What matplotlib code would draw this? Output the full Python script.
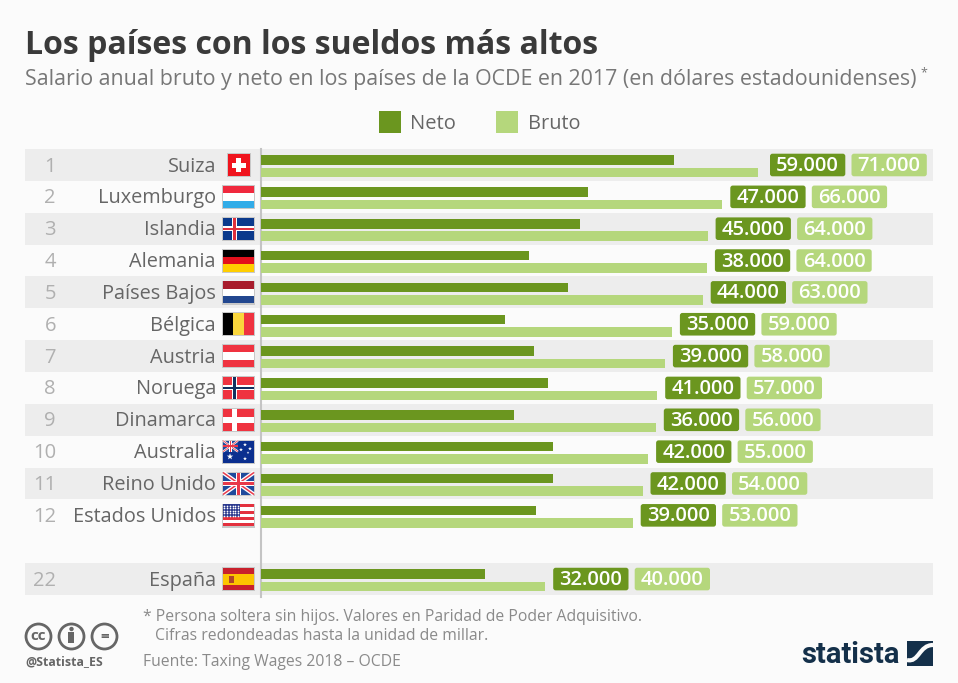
from matplotlib import pyplot as plt
from matplotlib.patches import Rectangle, FancyBboxPatch, Circle, PathPatch
from matplotlib.path import Path
import numpy as np

plt.rcParams['font.family'] = ['Open Sans', 'DejaVu Sans']

ranks = [1, 2, 3, 4, 5, 6, 7, 8, 9, 10, 11, 12, 22]
countries = ["Suiza", "Luxemburgo", "Islandia", "Alemania", "Países Bajos", "Bélgica", "Austria",
             "Noruega", "Dinamarca", "Australia", "Reino Unido", "Estados Unidos", "España"]
rows = [0, 1, 2, 3, 4, 5, 6, 7, 8, 9, 10, 11, 13]
# bar lengths
neto = [59000, 46700, 45600, 38300, 43900, 34900, 39000, 41000, 36100, 41700, 41700, 39300, 32000]
bruto = [71000, 65900, 63800, 63700, 63100, 58700, 57700, 56600, 56400, 55300, 54500, 53100, 40600]
# rounded values printed in the badges
neto_labels = ["59.000", "47.000", "45.000", "38.000", "44.000", "35.000", "39.000",
               "41.000", "36.000", "42.000", "42.000", "39.000", "32.000"]
bruto_labels = ["71.000", "66.000", "64.000", "64.000", "63.000", "59.000", "58.000",
                "57.000", "56.000", "55.000", "54.000", "53.000", "40.000"]

W, H = 958, 683
BG = "#fbfbfb"
BAND = "#ededed"
DARK = "#6b961f"
LIGHT = "#b5d77c"
GREY = "#666666"
NAVY = "#14304a"
X0 = 261
PX_PER_USD = 0.0070
ROW0 = 165
ROW_H = 31.85

fig = plt.figure(figsize=(W / 100, H / 100), dpi=100, facecolor=BG)

# data axes cover the whole figure, so the scale lines up with the page
ax = fig.add_axes([0, 0, 1, 1])
ax.set_xlim(-X0 / PX_PER_USD, (W - X0) / PX_PER_USD)
ax.set_ylim((H - ROW0) / ROW_H, -ROW0 / ROW_H)
ax.axis("off")

# page axes in pixels for text and flags
pg = fig.add_axes([0, 0, 1, 1])
pg.set_xlim(0, W)
pg.set_ylim(H, 0)
pg.axis("off")
pg.patch.set_alpha(0)


def rect(x, y, w, h, c, z=3):
    pg.add_patch(Rectangle((x, y), w, h, fc=c, ec="none", zorder=z))


def line(xs, ys, c, lw, z=4):
    pg.plot(xs, ys, color=c, lw=lw, solid_capstyle="butt", zorder=z)


def hstripes(x, y, w, h, cols):
    for i, c in enumerate(cols):
        rect(x, y + i * h / len(cols), w, h / len(cols), c)


def vstripes(x, y, w, h, cols):
    for i, c in enumerate(cols):
        rect(x + i * w / len(cols), y, w / len(cols), h, c)


def nordic(x, y, w, h, bg, cross, inner=None):
    rect(x, y, w, h, bg)
    cw = 5 if inner else 5.5
    rect(x + 9, y, cw, h, cross, 4)
    rect(x, y + h / 2 - cw / 2, w, cw, cross, 4)
    if inner:
        rect(x + 10.3, y, 2.4, h, inner, 5)
        rect(x, y + h / 2 - 1.2, w, 2.4, inner, 5)


def union(x, y, w, h):
    rect(x, y, w, h, "#1f4a9c")
    sw = h / 22
    line([x, x + w], [y, y + h], "white", 3 * sw)
    line([x, x + w], [y + h, y], "white", 3 * sw)
    line([x, x + w], [y, y + h], "#e8394a", 1.1 * sw)
    line([x, x + w], [y + h, y], "#e8394a", 1.1 * sw)
    rect(x + w / 2 - 2.6 * sw, y, 5.2 * sw, h, "white", 5)
    rect(x, y + h / 2 - 2.6 * sw, w, 5.2 * sw, "white", 5)
    rect(x + w / 2 - 1.4 * sw, y, 2.8 * sw, h, "#e8394a", 6)
    rect(x, y + h / 2 - 1.4 * sw, w, 2.8 * sw, "#e8394a", 6)


def draw_flag(name, cy):
    x, y, w, h = 223, cy - 11, 31, 22
    if name == "Suiza":
        x, w = 228, 22
        rect(x - 0.8, y - 0.8, w + 2, h + 2, "#c8c8c8", 2)
        rect(x, y, w, h, "#f0141e")
        rect(x + 8.5, y + 4, 5, 14, "white", 4)
        rect(x + 4, y + 8.5, 14, 5, "white", 4)
        return
    rect(x - 0.8, y - 0.8, w + 2, h + 2, "#c8c8c8", 2)
    if name == "Luxemburgo":
        hstripes(x, y, w, h, ["#f0293e", "white", "#32ace8"])
    elif name == "Islandia":
        nordic(x, y, w, h, "#0b3a8c", "white", "#e0313e")
    elif name == "Alemania":
        hstripes(x, y, w, h, ["black", "#e3101c", "#ffce00"])
    elif name == "Países Bajos":
        hstripes(x, y, w, h, ["#a81c2c", "white", "#22478f"])
    elif name == "Bélgica":
        vstripes(x, y, w, h, ["black", "#fad63c", "#ef3340"])
    elif name == "Austria":
        hstripes(x, y, w, h, ["#ef3340", "white", "#ef3340"])
    elif name == "Noruega":
        nordic(x, y, w, h, "#ef3340", "white", "#12305f")
    elif name == "Dinamarca":
        nordic(x, y, w, h, "#ef3340", "white")
    elif name == "Australia":
        rect(x, y, w, h, "#0b2f8f")
        union(x, y, 15, 11)
        pg.scatter(np.array([7, 22, 27, 22, 18, 25]) + x, np.array([16, 4, 8, 18, 9, 12]) + y,
                   s=[24, 9, 9, 9, 9, 4], marker="*", color="white", lw=0, zorder=7)
    elif name == "Reino Unido":
        union(x, y, w, h)
    elif name == "Estados Unidos":
        hstripes(x, y, w, h, ["#e3313e", "white"] * 3 + ["#e3313e"])
        rect(x, y, 17, 12.5, "#2c3a8f", 4)
        gx, gy = np.meshgrid(np.arange(1.5, 17, 2.7), np.arange(1.5, 12, 2.5))
        pg.scatter(gx.ravel() + x, gy.ravel() + y, s=1.5, color="white", lw=0, zorder=5)
    elif name == "España":
        hstripes(x, y, w, h, ["#c8202c", "#fcc400", "#fcc400", "#c8202c"])
        rect(x + 6, y + 7.5, 5.5, 7, "#b0452a", 5)


def badge(x, cy, label, color):
    pg.add_patch(FancyBboxPatch((x, cy - 11.3), 75.3, 22.6, boxstyle="round,pad=0,rounding_size=2.5",
                                fc=color, ec="none", zorder=5))
    pg.text(x + 37.6, cy + 1, label, color="white", fontsize=14.5, ha="center", va="center",
            fontweight=600, zorder=6)


# alternating bands
for i, r in enumerate(rows):
    if i % 2 == 0:
        ax.axhspan(r - 0.5, r + 0.5, xmin=25 / W, xmax=933 / W, color=BAND, lw=0, zorder=1)

ax.axvline(0, ymin=1 - 597 / H, ymax=1 - 149 / H, color="#c4c4c4", lw=1.5, zorder=2)

y = np.array(rows)
ax.barh(y - 0.155, neto, height=0.3, color=DARK, zorder=3)
ax.barh(y + 0.235, bruto, height=0.3, color=LIGHT, zorder=3)

for i, r in enumerate(rows):
    cy = ROW0 + r * ROW_H
    pg.text(56, cy + 1.5, str(ranks[i]), color="#b0b0b0", fontsize=14.5, ha="right", va="center")
    pg.text(216, cy + 1.5, countries[i], color=GREY, fontsize=14.3, ha="right", va="center")
    draw_flag(countries[i], cy)
    gap = 12 if i == 0 else 8
    start = X0 + bruto[i] * PX_PER_USD + gap
    badge(start, cy, neto_labels[i], DARK)
    badge(start + 81.5, cy, bruto_labels[i], LIGHT)

# title block
pg.text(25, 45, "Los países con los sueldos más altos", color="#3a3a3a", fontsize=23,
        fontweight="bold", va="center", ha="left")
pg.text(25, 80, "Salario anual bruto y neto en los países de la OCDE en 2017 (en dólares estadounidenses)",
        color="#777777", fontsize=15.4, va="center", ha="left")
pg.text(920, 73, "*", color="#777777", fontsize=9, va="center", ha="left")

# legend
rect(379, 111, 22, 22, DARK)
pg.text(410, 124, "Neto", color=GREY, fontsize=14.5, va="center")
rect(496, 111, 22, 22, LIGHT)
pg.text(528, 124, "Bruto", color=GREY, fontsize=14.3, va="center")

# notes
pg.text(143, 617, "* Persona soltera sin hijos. Valores en Paridad de Poder Adquisitivo.",
        color="#8a8a8a", fontsize=11.35, va="center")
pg.text(155, 636, "Cifras redondeadas hasta la unidad de millar.", color="#8a8a8a", fontsize=11.35, va="center")
pg.text(143, 662, "Fuente: Taxing Wages 2018 – OCDE", color="#8a8a8a", fontsize=11.3, va="center")

# licence icons
for cx, sym in zip([38.5, 71.5, 104.5], ["cc", "", "="]):
    pg.add_patch(Circle((cx, 636.5), 12.5, fc="none", ec="#666666", lw=2, zorder=4))
    if sym:
        pg.text(cx, 636.5, sym, color="#666666", fontsize=11, fontweight="bold", ha="center", va="center")
pg.add_patch(Circle((71.5, 629), 2.2, fc="#666666", ec="none", zorder=5))
rect(68.5, 632, 6, 11, "#666666", 5)
pg.text(25, 662, "@Statista_ES", color="#666666", fontsize=8.9, fontweight="bold", va="center")

# logo
pg.text(801, 655, "statista", color=NAVY, fontsize=21, fontweight="bold", family="Roboto",
        va="center", ha="left")
rect(907, 641, 26, 25, NAVY)
swoosh = Path([(907, 660), (919, 663), (919, 645), (933, 645)], [Path.MOVETO, Path.CURVE4, Path.CURVE4, Path.CURVE4])
pg.add_patch(PathPatch(swoosh, fc="none", ec=BG, lw=3, zorder=5))

fig.savefig("out.png", dpi=100, facecolor=BG)
